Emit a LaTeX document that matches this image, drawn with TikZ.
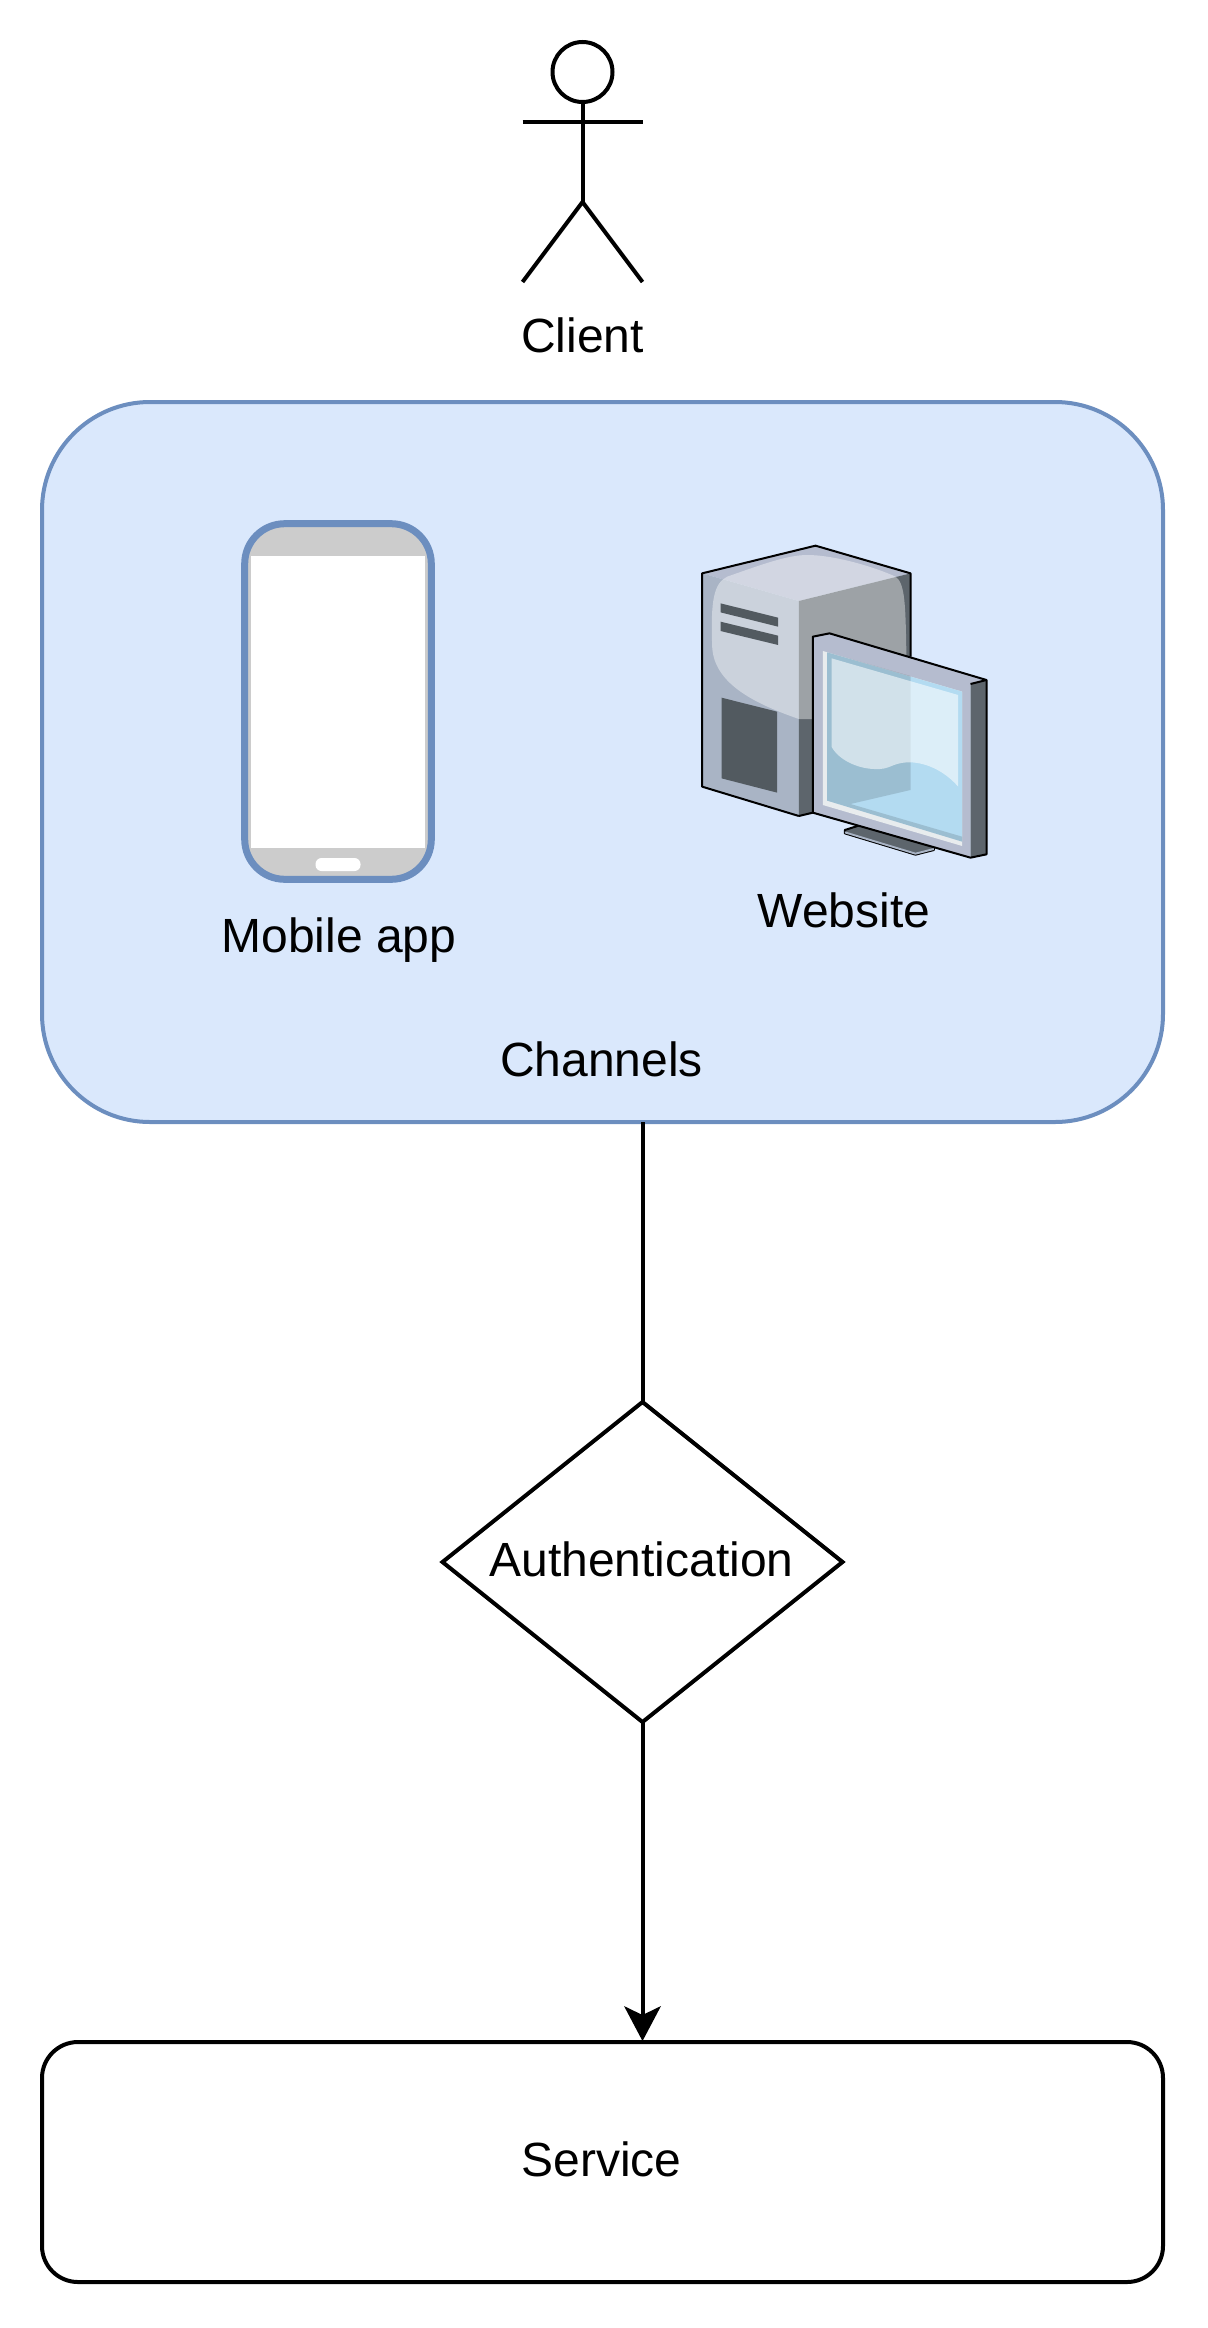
\documentclass[tikz,border=0pt]{standalone}
\usepackage{fontspec}
\setmainfont{Liberation Sans}
\usepackage{tikz}
\usetikzlibrary{arrows.meta,positioning,shapes.geometric}
\definecolor{channelfill}{HTML}{DAE8FC}
\definecolor{channelline}{HTML}{6C8EBF}
\definecolor{phonegrey}{HTML}{CCCCCC}
\definecolor{pcdark}{HTML}{5D656C}
\definecolor{pcslate}{HTML}{A9B4C5}
\definecolor{pctop}{HTML}{B5BCCF}
\definecolor{pcslot}{HTML}{525A60}
\definecolor{pcscreen}{HTML}{B3DBF1}
\definecolor{pcbezel}{HTML}{E8ECEE}
\tikzset{
  label text/.style={font=\fontsize{24pt}{28pt}\selectfont,anchor=base},
  thick line/.style={draw=black,line width=2pt},
  pc line/.style={draw=black,line width=1pt,line join=round},
  channel box/.style={rectangle,draw=channelline,fill=channelfill,line width=2pt,rounded corners=54pt,minimum width=560.5pt,minimum height=360pt},
  service box/.style={rectangle,thick line,rounded corners=18pt,minimum width=560.5pt,minimum height=120pt},
  auth diamond/.style={diamond,thick line,minimum width=200pt,minimum height=160pt}
}
\begin{document}
\begin{tikzpicture}[x=0.5pt,y=-0.5pt]
\tikzstyle{every node}+=[inner sep=0pt,outer sep=0pt]
\useasboundingbox (0,0) rectangle (1208,2328);

\node [circle,thick line,minimum size=30pt] (clienthead) at (582.5,72) {};
\coordinate (clienthip) at (582.5,202);
\coordinate (clientarmleft) at (522.5,122);
\coordinate (clientarmright) at (642.5,122);
\coordinate (clientfootleft) at (522.5,282);
\coordinate (clientfootright) at (642.5,282);
\draw [thick line] (clienthead.south) -- (clienthip);
\draw [thick line] (clientarmleft) -- (clientarmright);
\draw [thick line] (clientfootleft) -- (clienthip) -- (clientfootright);
\node [label text] (client) at (582.5,352) {Client};

\node [channel box] (channels) at (602.5,762) {};
\node [label text] (channelslabel) at (601.5,1076) {Channels};

\node [rectangle,draw=channelline,fill=phonegrey,line width=3.5pt,rounded corners=20pt,minimum width=93.3pt,minimum height=177.8pt] (phone) at (338,701.5) {};
\node [rectangle,fill=white,minimum width=87pt,minimum height=146pt] (phonescreen) at (338,702) {};
\node [rectangle,fill=white,rounded corners=3pt,minimum width=22.5pt,minimum height=6.5pt] (phonebutton) at (338,864.5) {};
\node [label text] (mobileapp) at (339,952) {Mobile app};

\begin{scope}[shift={(660.5,520)},scale=1/3]
\fill [pctop] (125,160) -- (465,77) -- (750,160) -- (415,243) -- cycle;
\fill [pcslate] (125,160) -- (415,243) -- (415,888) -- (125,800) -- cycle;
\fill [pcdark] (415,243) -- (750,160) -- (750,830) -- (415,888) -- cycle;
\fill [white,fill opacity=0.4] (155,380) .. controls (150,240) and (160,190) .. (200,170) .. controls (300,135) and (380,105) .. (440,105) .. controls (520,105) and (640,140) .. (705,170) .. controls (735,190) and (735,260) .. (738,420) -- (738,600) -- (415,597) .. controls (280,550) and (160,490) .. (155,380) -- cycle;
\fill [pcslot] (180,250) -- (353,293) -- (353,320) -- (180,277) -- cycle;
\fill [pcslot] (180,305) -- (353,347) -- (353,375) -- (180,333) -- cycle;
\fill [pcslot] (183,533) -- (350,575) -- (350,818) -- (183,775) -- cycle;
\draw [pc line] (415,888) -- (125,800) -- (125,160) -- (465,77) -- (750,160) -- (750,410);
\draw [pc line] (415,888) -- (457,878);

\fill [pcdark,draw=black,line width=1pt,line join=round] (553,930) -- (610,912) -- (820,980) -- (820,990) -- (765,1004) -- (553,940) -- cycle;
\fill [pcslate] (553,934) -- (765,998) -- (820,984) -- (820,990) -- (765,1004) -- (553,940) -- cycle;

\fill [pctop] (457,350) -- (507,340) -- (978,480) -- (930,492) -- (930,1013) -- (457,878) -- cycle;
\fill [pcdark] (930,492) -- (978,480) -- (978,1003) -- (930,1013) -- cycle;
\fill [pcbezel] (487,393) -- (905,515) -- (905,978) -- (487,855) -- cycle;
\fill [pcscreen] (500,397) -- (905,515) -- (905,965) -- (500,842) -- cycle;
\fill [black,fill opacity=0.13] (500,397) -- (750,468) -- (750,810) -- (570,852) -- (905,950) -- (905,965) -- (500,842) -- cycle;
\fill [white,fill opacity=0.55] (513,415) -- (893,525) -- (893,800) .. controls (850,750) and (790,725) .. (740,727) .. controls (690,730) and (690,750) .. (640,747) .. controls (590,745) and (535,720) .. (513,680) -- cycle;
\draw [pc line] (457,878) -- (457,350) -- (507,340) -- (978,480) -- (978,1003) -- (930,1013) -- (457,878);
\draw [pc line] (930,492) -- (978,480);
\end{scope}
\node [label text] (website) at (844,927) {Website};

\node [auth diamond] (auth) at (642.5,1562) {};
\node [label text] (authlabel) at (641.5,1576) {Authentication};
\node [service box] (service) at (602.5,2162) {};
\node [label text] (servicelabel) at (601.5,2176) {Service};

\draw [thick line] (auth.north |- channels.south) -- (auth.north);
\draw [thick line,shorten >=0.5pt,-{Stealth[length=17.5pt,width=18.5pt,inset=4.5pt,line width=0pt]}] (auth.south) -- (auth.south |- service.north);
\end{tikzpicture}
\end{document}
